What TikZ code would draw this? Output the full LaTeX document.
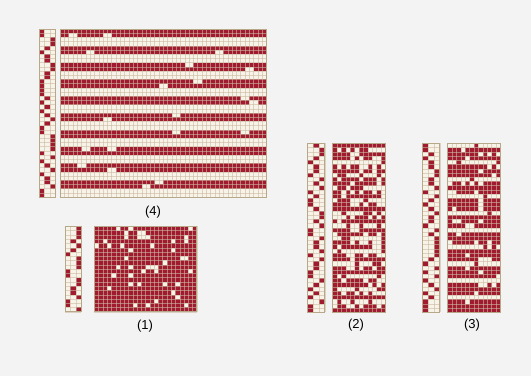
\documentclass[tikz,border=0pt]{standalone}
\usepackage{fontspec}
\setmainfont{Liberation Sans}
\definecolor{wred}{RGB}{160,26,48}
\definecolor{wcream}{RGB}{247,243,233}
\definecolor{wline}{RGB}{184,168,138}
\definecolor{wthin}{RGB}{204,186,160}
\definecolor{bgray}{RGB}{243,243,243}

% grid lines and frame of a block: x, y, cols, rows, cell width, cell height
\newcommand{\cellgrid}[6]{%
  \foreach \i in {0,...,#3} \draw[gline] (#1+\i*#5,#2) -- ++(0,#4*#6);
  \foreach \j in {0,...,#4} \draw[gline] (#1,#2+\j*#6) -- ++(#3*#5,0);
  \draw[frame] (#1,#2) rectangle ++(#3*#5,#4*#6);
}

\begin{document}
\begin{tikzpicture}[
  x=1pt, y=-1pt,
  redcell/.style={fill=wred},
  blankcell/.style={fill=wcream},
  gline/.style={wthin, opacity=0.6, line width=0.25pt},
  frame/.style={draw=wline, line width=0.9pt},
  lbl/.style={font=\fontsize{13}{15}\selectfont, inner sep=0pt}
]

\useasboundingbox (0,0) rectangle (531,376);
\fill[bgray] (0,0) rectangle (531,376);
\pgfmathsetseed{11}

% Draft (4)
\def\xS{39} \def\xM{60} \def\yT{29}
\def\cw{4.3} \def\ch{4.2} \def\sw{5.33}
\fill[blankcell] (\xS,\yT) rectangle ++(3*\sw,40*\ch);
\foreach \j in {0,...,39} {
  \pgfmathrandominteger{\k}{0}{2}
  \fill[redcell] (\xS+\k*\sw,\yT+\j*\ch) rectangle ++(\sw,\ch);
}
\fill[blankcell] (\xM,\yT) rectangle ++(48*\cw,40*\ch);
\foreach \b in {0,...,9} {
  \fill[redcell] (\xM,\yT+\b*4*\ch) rectangle ++(48*\cw,2*\ch);
  \foreach \n in {1,2} {
    \pgfmathrandominteger{\k}{0}{46}
    \pgfmathrandominteger{\r}{0}{1}
    \fill[blankcell] (\xM+\k*\cw,\yT+\b*4*\ch+\r*\ch) rectangle ++(2*\cw,\ch);
  }
}
\cellgrid{\xS}{\yT}{3}{40}{\sw}{\ch}
\cellgrid{\xM}{\yT}{48}{40}{\cw}{\ch}
\node[lbl] (lab4) at (153,212) {(4)};

% Draft (1)
\def\xS{65} \def\xM{94.3} \def\yT{226.3}
\def\cw{4.27} \def\ch{4.27}
\fill[blankcell] (\xS,\yT) rectangle ++(3*\sw,20*\ch);
\foreach \j in {0,...,19} {
  \pgfmathrandominteger{\k}{0}{2}
  \fill[redcell] (\xS+\k*\sw,\yT+\j*\ch) rectangle ++(\sw,\ch);
}
\fill[redcell] (\xM,\yT) rectangle ++(24*\cw,20*\ch);
\foreach \n in {1,...,48} {
  \pgfmathrandominteger{\k}{0}{23}
  \pgfmathrandominteger{\r}{0}{19}
  \fill[blankcell] (\xM+\k*\cw,\yT+\r*\ch) rectangle ++(\cw,\ch);
}
\cellgrid{\xS}{\yT}{3}{20}{\sw}{\ch}
\cellgrid{\xM}{\yT}{24}{20}{\cw}{\ch}
\node[lbl] (lab1) at (145,326) {(1)};

% Draft (2)
\def\xS{307.5} \def\xM{332.5} \def\yT{143.3}
\def\cw{4.4} \def\ch{4.22} \def\sw{5.8}
\fill[blankcell] (\xS,\yT) rectangle ++(3*\sw,40*\ch);
\foreach \j in {0,...,39} {
  \pgfmathrandominteger{\k}{0}{2}
  \fill[redcell] (\xS+\k*\sw,\yT+\j*\ch) rectangle ++(\sw,\ch);
}
\fill[blankcell] (\xM,\yT) rectangle ++(12*\cw,40*\ch);
\foreach \j in {0,...,39} {
  \pgfmathtruncatemacro{\pr}{{85,30,60}[mod(\j,3)]}
  \foreach \i in {0,...,11} {
    \pgfmathrandominteger{\k}{1}{100}
    \ifnum\k<\pr\relax
      \fill[redcell] (\xM+\i*\cw,\yT+\j*\ch) rectangle ++(\cw,\ch);
    \fi
  }
}
\cellgrid{\xS}{\yT}{3}{40}{\sw}{\ch}
\cellgrid{\xM}{\yT}{12}{40}{\cw}{\ch}
\node[lbl] (lab2) at (356,325) {(2)};

% Draft (3)
\def\xS{422.5} \def\xM{447.5}
\fill[blankcell] (\xS,\yT) rectangle ++(3*\sw,40*\ch);
\foreach \j in {0,...,39} {
  \pgfmathrandominteger{\k}{0}{2}
  \fill[redcell] (\xS+\k*\sw,\yT+\j*\ch) rectangle ++(\sw,\ch);
}
\fill[blankcell] (\xM,\yT) rectangle ++(12*\cw,40*\ch);
\foreach \j in {0,...,39} {
  \pgfmathtruncatemacro{\pr}{{10,90,90,90}[mod(\j,4)]}
  \foreach \i in {0,...,11} {
    \pgfmathrandominteger{\k}{1}{100}
    \ifnum\k<\pr\relax
      \fill[redcell] (\xM+\i*\cw,\yT+\j*\ch) rectangle ++(\cw,\ch);
    \fi
  }
}
\cellgrid{\xS}{\yT}{3}{40}{\sw}{\ch}
\cellgrid{\xM}{\yT}{12}{40}{\cw}{\ch}
\node[lbl] (lab3) at (472,325) {(3)};

\end{tikzpicture}
\end{document}
